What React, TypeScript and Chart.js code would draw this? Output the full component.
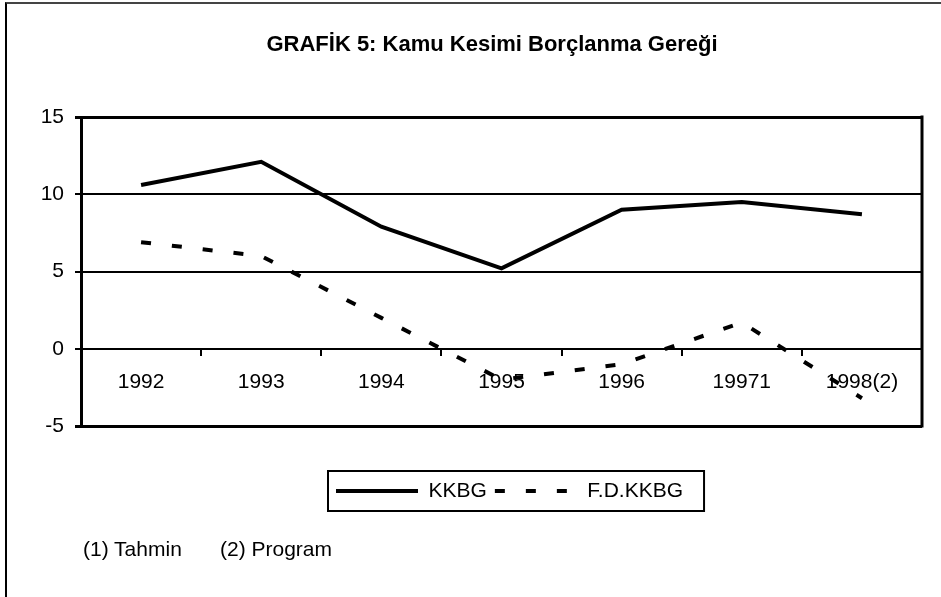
import React, { useEffect, useRef } from 'react';
import { Chart, registerables } from 'chart.js';

Chart.register(...registerables);

const categories = ['1992', '1993', '1994', '1995', '1996', '19971', '1998(2)'];
const kkbgValues = [10.6, 12.1, 7.9, 5.2, 9.0, 9.5, 8.7];
const fdKkbgValues = [6.9, 6.0, 2.0, -2.0, -1.0, 1.7, -3.2];
const seriesNames = ['KKBG', 'F.D.KKBG'];
const yMin = -5;
const yMax = 15;
const yStep = 5;
const titleText = 'GRAFİK 5: Kamu Kesimi Borçlanma Gereği';
const footnotes = ['(1) Tahmin', '(2) Program'];

const FONT = "'Liberation Sans', Arial, sans-serif";
const DASH = [10, 21];

const layoutTweaks = {
  id: 'layoutTweaks',
  afterLayout(chart: any) {
    const tb = chart.titleBlock;
    if (tb) {
      tb.left += 31;
      tb.right += 31;
    }
    const lg = chart.legend;
    if (lg) {
      const h = lg.height;
      lg.left = 328;
      lg.right = 941;
      lg.top = 472.5;
      lg.bottom = lg.top + h;
    }
  },
  afterDraw(chart: any) {
    const ctx = chart.ctx;
    const a = chart.chartArea;
    ctx.save();
    ctx.strokeStyle = '#000';
    ctx.lineWidth = 3;
    ctx.beginPath();
    ctx.moveTo(a.right, a.top - 1.5);
    ctx.lineTo(a.right, a.bottom + 1.5);
    ctx.stroke();
    const hb = chart.legend && chart.legend.legendHitBoxes;
    if (hb && hb.length) {
      const first = hb[0];
      const last = hb[hb.length - 1];
      const cy = first.top + first.height / 2;
      const l = first.left - 8;
      const r = last.left + last.width + 21;
      ctx.lineWidth = 2;
      ctx.strokeRect(l, cy - 20, r - l, 40);
    }
    ctx.restore();
  },
};

export default function App() {
  const canvasRef = useRef<HTMLCanvasElement | null>(null);

  useEffect(() => {
    const canvas = canvasRef.current;
    if (!canvas) return;
    const chart = new Chart(canvas, {
      type: 'line',
      data: {
        labels: categories,
        datasets: [
          {
            label: seriesNames[0],
            data: kkbgValues,
            borderColor: '#000',
            backgroundColor: '#000',
            borderWidth: 4,
            pointRadius: 0,
            tension: 0,
            fill: false,
          },
          {
            label: seriesNames[1],
            data: fdKkbgValues,
            borderColor: '#000',
            backgroundColor: '#000',
            borderWidth: 4,
            borderDash: DASH,
            pointRadius: 0,
            tension: 0,
            fill: false,
          },
        ],
      },
      options: {
        animation: false,
        responsive: false,
        maintainAspectRatio: false,
        events: [],
        color: '#000',
        layout: { padding: { left: 0, right: 19, top: 0, bottom: 132 } },
        plugins: {
          tooltip: { enabled: false },
          title: {
            display: true,
            text: titleText,
            color: '#000',
            font: { family: FONT, size: 22, weight: 'bold' },
            padding: { top: 31.8, bottom: 58.8 },
          },
          legend: {
            display: true,
            position: 'bottom',
            align: 'start',
            labels: {
              color: '#000',
              font: { family: FONT, size: 21 },
              usePointStyle: true,
              pointStyleWidth: 82,
              padding: 8,
              generateLabels: (chart: any) =>
                chart.data.datasets.map((ds: any, i: number) => ({
                  text: ds.label,
                  fillStyle: '#000',
                  strokeStyle: '#000',
                  fontColor: '#000',
                  lineWidth: 4,
                  lineDash: ds.borderDash || [],
                  lineCap: 'butt',
                  pointStyle: 'line',
                  hidden: false,
                  datasetIndex: i,
                })),
            },
          },
        },
        scales: {
          x: {
            type: 'category',
            position: { y: 0 } as any,
            offset: true,
            grid: {
              offset: true,
              drawOnChartArea: false,
              drawTicks: true,
              tickLength: 6,
              color: '#000',
              lineWidth: 2,
            },
            border: { display: true, color: '#000', width: 2 },
            ticks: {
              color: '#000',
              font: { family: FONT, size: 21 },
              padding: 15,
              maxRotation: 0,
              autoSkip: false,
            },
          },
          y: {
            type: 'linear',
            min: yMin,
            max: yMax,
            ticks: {
              stepSize: yStep,
              color: '#000',
              font: { family: FONT, size: 21 },
              padding: 11,
            },
            grid: {
              color: '#000',
              lineWidth: (c: any) =>
                c.tick && (c.tick.value === yMax || c.tick.value === yMin) ? 3 : 2,
              drawTicks: true,
              tickLength: 6,
            },
            border: { display: true, color: '#000', width: 3 },
            afterFit: (s: any) => {
              s.width = 81;
            },
          },
        },
      },
      plugins: [layoutTweaks],
    } as any);
    return () => chart.destroy();
  }, []);

  return (
    <div
      style={{
        position: 'fixed',
        left: 0,
        top: 0,
        width: 941,
        height: 597,
        background: '#fff',
        overflow: 'hidden',
      }}
    >
      <canvas
        ref={canvasRef}
        width={941}
        height={597}
        style={{ position: 'absolute', left: 0, top: 0, width: 941, height: 597 }}
      />
      <div
        style={{
          position: 'absolute',
          left: 5,
          top: 2,
          width: 960,
          height: 620,
          borderTop: '2px solid #444',
          borderLeft: '2px solid #000',
          pointerEvents: 'none',
        }}
      />
      <span
        style={{
          position: 'absolute',
          left: 83,
          top: 537,
          fontFamily: FONT,
          fontSize: 21,
          lineHeight: '24px',
          color: '#000',
          whiteSpace: 'nowrap',
        }}
      >
        {footnotes[0]}
      </span>
      <span
        style={{
          position: 'absolute',
          left: 220,
          top: 537,
          fontFamily: FONT,
          fontSize: 21,
          lineHeight: '24px',
          color: '#000',
          whiteSpace: 'nowrap',
        }}
      >
        {footnotes[1]}
      </span>
    </div>
  );
}
